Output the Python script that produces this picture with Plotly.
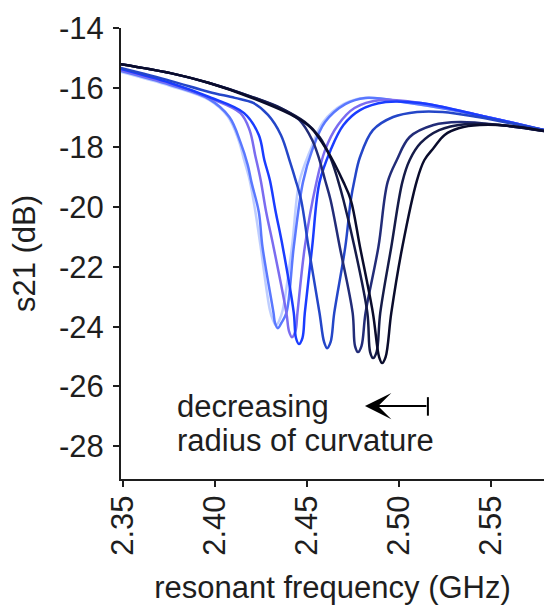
import plotly.graph_objects as go

# ---- data (frequency in GHz, s21 in dB) ----
c1_x = [2.349, 2.376, 2.397, 2.407, 2.413, 2.416, 2.419, 2.422, 2.425, 2.430, 2.4317, 2.4333, 2.4352, 2.437, 2.442, 2.446, 2.452, 2.459, 2.470, 2.481, 2.506, 2.543, 2.579]
c1_y = [-15.47, -15.94, -16.41, -16.95, -17.75, -18.42, -19.09, -20.10, -21.33, -23.44, -23.78, -23.95, -23.78, -23.44, -21.33, -19.16, -18.09, -17.15, -16.55, -16.34, -16.51, -16.91, -17.42]

c2_x = [2.349, 2.376, 2.397, 2.408, 2.414, 2.418, 2.420, 2.424, 2.426, 2.432, 2.4328, 2.4344, 2.4363, 2.439, 2.443, 2.448, 2.453, 2.460, 2.471, 2.482, 2.506, 2.543, 2.579]
c2_y = [-15.44, -15.91, -16.38, -16.98, -17.82, -18.59, -19.16, -20.16, -21.33, -23.54, -23.87, -24.05, -23.87, -23.54, -21.33, -19.16, -18.09, -17.15, -16.55, -16.34, -16.51, -16.91, -17.42]

c3_x = [2.349, 2.376, 2.397, 2.414, 2.419, 2.422, 2.425, 2.428, 2.432, 2.439, 2.4404, 2.4420, 2.4439, 2.445, 2.449, 2.455, 2.460, 2.467, 2.476, 2.490, 2.512, 2.543, 2.579]
c3_y = [-15.41, -15.88, -16.34, -16.85, -17.42, -18.25, -19.09, -20.16, -21.33, -23.54, -24.15, -24.35, -24.15, -23.54, -21.33, -19.26, -18.09, -17.25, -16.68, -16.41, -16.51, -16.91, -17.42]

c4_x = [2.349, 2.376, 2.397, 2.416, 2.424, 2.427, 2.430, 2.433, 2.437, 2.443, 2.4442, 2.4458, 2.4477, 2.449, 2.453, 2.457, 2.463, 2.470, 2.479, 2.493, 2.512, 2.543, 2.579]
c4_y = [-15.37, -15.84, -16.31, -16.85, -17.58, -18.42, -19.09, -20.10, -21.33, -23.54, -24.38, -24.58, -24.38, -23.54, -21.33, -19.16, -18.09, -17.25, -16.75, -16.48, -16.51, -16.91, -17.42]

c5_x = [2.349, 2.376, 2.397, 2.411, 2.421, 2.429, 2.436, 2.441, 2.444, 2.447, 2.451, 2.457, 2.4595, 2.4611, 2.4630, 2.465, 2.471, 2.474, 2.476, 2.479, 2.486, 2.497, 2.510, 2.524, 2.543, 2.579]
c5_y = [-15.34, -15.77, -16.14, -16.34, -16.51, -16.91, -17.58, -18.49, -19.09, -19.76, -21.33, -23.54, -24.52, -24.72, -24.52, -23.54, -21.33, -19.76, -19.09, -18.32, -17.42, -16.98, -16.81, -16.81, -16.98, -17.42]

c6_x = [2.349, 2.376, 2.397, 2.419, 2.436, 2.446, 2.453, 2.457, 2.460, 2.463, 2.468, 2.475, 2.4763, 2.4779, 2.4798, 2.482, 2.489, 2.494, 2.499, 2.506, 2.519, 2.533, 2.555, 2.579]
c6_y = [-15.21, -15.51, -15.84, -16.28, -16.68, -17.08, -17.75, -18.42, -19.09, -19.76, -21.33, -23.54, -24.65, -24.85, -24.65, -23.54, -21.33, -19.16, -18.42, -17.65, -17.25, -17.15, -17.25, -17.45]

c7_x = [2.349, 2.376, 2.397, 2.419, 2.438, 2.449, 2.457, 2.463, 2.467, 2.470, 2.476, 2.483, 2.4845, 2.4861, 2.4880, 2.490, 2.496, 2.502, 2.506, 2.512, 2.522, 2.536, 2.555, 2.579]
c7_y = [-15.21, -15.51, -15.84, -16.28, -16.75, -17.15, -17.65, -18.35, -19.09, -19.76, -21.33, -23.54, -24.85, -25.05, -24.85, -23.54, -21.33, -19.16, -18.42, -17.85, -17.42, -17.22, -17.25, -17.45]

c8_x = [2.349, 2.376, 2.397, 2.419, 2.443, 2.452, 2.461, 2.470, 2.474, 2.479, 2.486, 2.4894, 2.4910, 2.4929, 2.496, 2.502, 2.510, 2.514, 2.519, 2.525, 2.533, 2.544, 2.561, 2.579]
c8_y = [-15.21, -15.51, -15.84, -16.31, -16.95, -17.32, -18.09, -19.16, -19.76, -21.33, -23.54, -25.02, -25.22, -25.02, -23.54, -21.33, -19.09, -18.42, -18.02, -17.58, -17.35, -17.25, -17.28, -17.45]

series_x = [c1_x, c2_x, c3_x, c4_x, c5_x, c6_x, c7_x, c8_x]
series_y = [c1_y, c2_y, c3_y, c4_y, c5_y, c6_y, c7_y, c8_y]
colors = ["rgba(170,190,255,0.75)", "#5a78ff", "#7b6cf0", "#1a3cff", "#2446c8", "#222c78", "#151b48", "#0a0c2c"]

x_ticks = [2.35, 2.40, 2.45, 2.50, 2.55]
x_ticktext = ["2.35", "2.40", "2.45", "2.50", "2.55"]
y_ticks = [-14, -16, -18, -20, -22, -24, -26, -28]
y_ticktext = ["-14", "-16", "-18", "-20", "-22", "-24", "-26", "-28"]

FONT = "Liberation Sans, Arial, sans-serif"
INK = "#1e1e1e"

fig = go.Figure()
for xs, ys, col in zip(series_x, series_y, colors):
    fig.add_trace(go.Scatter(x=xs, y=ys, mode="lines",
                             line=dict(color=col, width=2.5, shape="spline", smoothing=1.0),
                             showlegend=False, hoverinfo="skip"))

# annotation text and arrow
fig.add_annotation(x=2.3784, y=-26.66, xref="x", yref="y", text="decreasing",
                   showarrow=False, xanchor="left", yanchor="middle",
                   font=dict(family=FONT, size=31, color=INK))
fig.add_annotation(x=2.3784, y=-27.80, xref="x", yref="y", text="radius of curvature",
                   showarrow=False, xanchor="left", yanchor="middle",
                   font=dict(family=FONT, size=31, color=INK))
fig.add_annotation(x=2.4817, y=-26.66, ax=2.5159, ay=-26.66, xref="x", yref="y",
                   axref="x", ayref="y", text="", showarrow=True,
                   arrowhead=3, arrowsize=2.2, arrowwidth=2, arrowcolor="black")
fig.add_shape(type="line", xref="x", yref="y", x0=2.5159, x1=2.5159, y0=-26.36, y1=-26.98,
              line=dict(color="black", width=2))

fig.update_layout(
    width=544, height=605,
    margin=dict(l=121, r=0, t=28, b=126),
    paper_bgcolor="white", plot_bgcolor="white",
    font=dict(family=FONT, color=INK, size=31),
    xaxis=dict(range=[2.3491, 2.579], tickvals=x_ticks, ticktext=x_ticktext,
               tickangle=-90, ticks="outside", ticklen=6, tickwidth=2, tickcolor=INK,
               showline=True, linewidth=2, linecolor=INK, showgrid=False, zeroline=False,
               tickfont=dict(family=FONT, size=31, color=INK), ticklabelstandoff=-4,
               title=dict(text="resonant frequency (GHz)", font=dict(family=FONT, size=31, color=INK), standoff=22)),
    yaxis=dict(range=[-29.1, -14.0], tickvals=y_ticks, ticktext=y_ticktext,
               ticks="outside", ticklen=6, tickwidth=2, tickcolor=INK,
               showline=True, linewidth=2, linecolor=INK, showgrid=False, zeroline=False,
               tickfont=dict(family=FONT, size=31, color=INK), ticklabelstandoff=3,
               title=dict(text="s21 (dB)", font=dict(family=FONT, size=31, color=INK), standoff=14)),
)

fig.write_html("out.html")
